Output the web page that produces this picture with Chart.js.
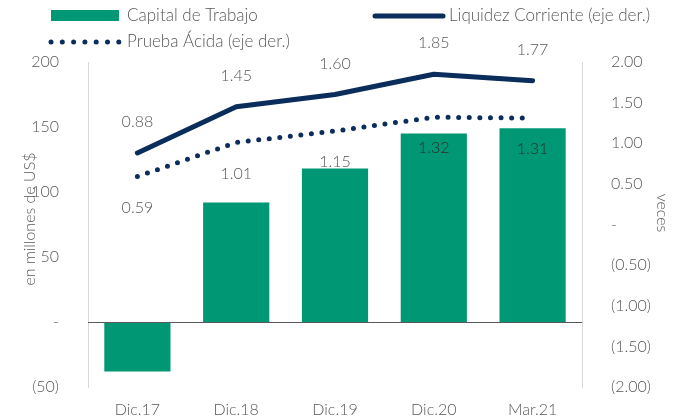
<!DOCTYPE html>
<html>
<head>
<meta charset="utf-8">
<script src="https://cdn.jsdelivr.net/npm/chart.js@4.4.1/dist/chart.umd.min.js"></script>
<style>
  html, body { margin: 0; padding: 0; background: #fff; }
  #wrap { position: relative; width: 683px; height: 419px; }
</style>
</head>
<body>
<div id="wrap"><canvas id="chart" width="683" height="419"></canvas></div>
<script>
// data
var categories = ['Dic.17', 'Dic.18', 'Dic.19', 'Dic.20', 'Mar.21'];
var capitalTrabajo = [-38, 92, 118, 145, 149];
var liquidezCorriente = [0.88, 1.45, 1.60, 1.85, 1.77];
var pruebaAcida = [0.59, 1.01, 1.15, 1.32, 1.31];

var GREEN = '#009874';
var NAVY = '#0b2d5b';
var TEXT = '#595959';
var FONT = 'Lato';

function fmtParen(v, dec) {
    if (Math.abs(v) < 1e-9) return '-';
    var s = Math.abs(v).toFixed(dec);
    return v < 0 ? '(' + s + ')' : s;
}

// labels, legend, axis titles, zero line
var extras = {
    id: 'extras',
    afterDatasetsDraw: function (chart) {
        var ctx = chart.ctx;
        var area = chart.chartArea;
        var yL = chart.scales.y;

        // zero line
        var y0 = Math.round(yL.getPixelForValue(0)) + 0.5;
        ctx.save();
        ctx.strokeStyle = '#595959';
        ctx.lineWidth = 1;
        ctx.beginPath();
        ctx.moveTo(area.left, y0);
        ctx.lineTo(area.right, y0);
        ctx.stroke();

        // value labels
        ctx.font = '300 16px ' + FONT;
        ctx.textAlign = 'center';
        ctx.textBaseline = 'middle';
        var liq = chart.getDatasetMeta(1).data;
        var pru = chart.getDatasetMeta(2).data;
        liq.forEach(function (p, i) {
            ctx.fillStyle = TEXT;
            ctx.fillText(liquidezCorriente[i].toFixed(2), p.x, p.y - 31);
        });
        pru.forEach(function (p, i) {
            ctx.fillStyle = i >= 3 ? '#2b2b2b' : TEXT;
            ctx.fillText(pruebaAcida[i].toFixed(2), p.x, p.y + 31);
        });

        // axis titles
        ctx.fillStyle = TEXT;
        ctx.save();
        ctx.translate(30, 219);
        ctx.rotate(-Math.PI / 2);
        ctx.fillText('en millones de US$', 0, 0);
        ctx.restore();
        ctx.save();
        ctx.translate(662, 213);
        ctx.rotate(Math.PI / 2);
        ctx.fillText('veces', 0, 0);
        ctx.restore();

        // legend
        ctx.font = '300 17px ' + FONT;
        ctx.textAlign = 'left';
        ctx.fillStyle = GREEN;
        ctx.fillRect(51, 10, 68, 11);
        ctx.fillStyle = TEXT;
        ctx.fillText('Capital de Trabajo', 127, 16);

        ctx.strokeStyle = NAVY;
        ctx.lineWidth = 5;
        ctx.lineCap = 'round';
        ctx.beginPath();
        ctx.moveTo(375, 16);
        ctx.lineTo(443, 16);
        ctx.stroke();
        ctx.fillText('Liquidez Corriente (eje der.)', 449, 16);

        ctx.fillStyle = NAVY;
        for (var k = 0; k < 7; k++) {
            ctx.beginPath();
            ctx.arc(51 + k * 11.3, 42, 2.5, 0, Math.PI * 2);
            ctx.fill();
        }
        ctx.fillStyle = TEXT;
        ctx.fillText('Prueba Ácida (eje der.)', 127, 42);
        ctx.restore();
    }
};

var tickFont = { family: FONT, size: 16, weight: '300' };

new Chart(document.getElementById('chart').getContext('2d'), {
    data: {
        labels: categories,
        datasets: [
            {
                type: 'bar',
                label: 'Capital de Trabajo',
                data: capitalTrabajo,
                backgroundColor: GREEN,
                categoryPercentage: 1,
                barPercentage: 0.67,
                yAxisID: 'y',
                order: 3
            },
            {
                type: 'line',
                label: 'Liquidez Corriente (eje der.)',
                data: liquidezCorriente,
                borderColor: NAVY,
                borderWidth: 5,
                borderCapStyle: 'round',
                borderJoinStyle: 'round',
                pointRadius: 0,
                tension: 0,
                yAxisID: 'y1',
                order: 1
            },
            {
                type: 'line',
                label: 'Prueba Ácida (eje der.)',
                data: pruebaAcida,
                borderColor: NAVY,
                borderWidth: 5,
                borderDash: [0, 10.6],
                borderCapStyle: 'round',
                pointRadius: 0,
                tension: 0,
                yAxisID: 'y1',
                order: 2
            }
        ]
    },
    options: {
        responsive: false,
        animation: false,
        layout: { padding: { top: 62, left: 0, right: 0, bottom: 0 } },
        plugins: { legend: { display: false }, tooltip: { enabled: false } },
        scales: {
            x: {
                grid: { display: false, drawTicks: false },
                border: { display: false },
                ticks: { color: TEXT, font: tickFont, padding: 13 },
                afterFit: function (s) { s.height = 32; }
            },
            y: {
                position: 'left',
                min: -50, max: 200,
                grid: { display: false },
                border: { display: true, color: '#d9d9d9', width: 1 },
                ticks: {
                    stepSize: 50, color: TEXT, font: tickFont, padding: 21,
                    callback: function (v) { return fmtParen(v, 0); }
                },
                afterFit: function (s) { s.width = 88; }
            },
            y1: {
                position: 'right',
                min: -2, max: 2,
                grid: { display: false },
                border: { display: true, color: '#d9d9d9', width: 1 },
                ticks: {
                    stepSize: 0.5, color: TEXT, font: tickFont, padding: 21,
                    callback: function (v) { return fmtParen(v, 2); }
                },
                afterFit: function (s) { s.width = 101; }
            }
        }
    },
    plugins: [extras]
});
</script>
</body>
</html>
